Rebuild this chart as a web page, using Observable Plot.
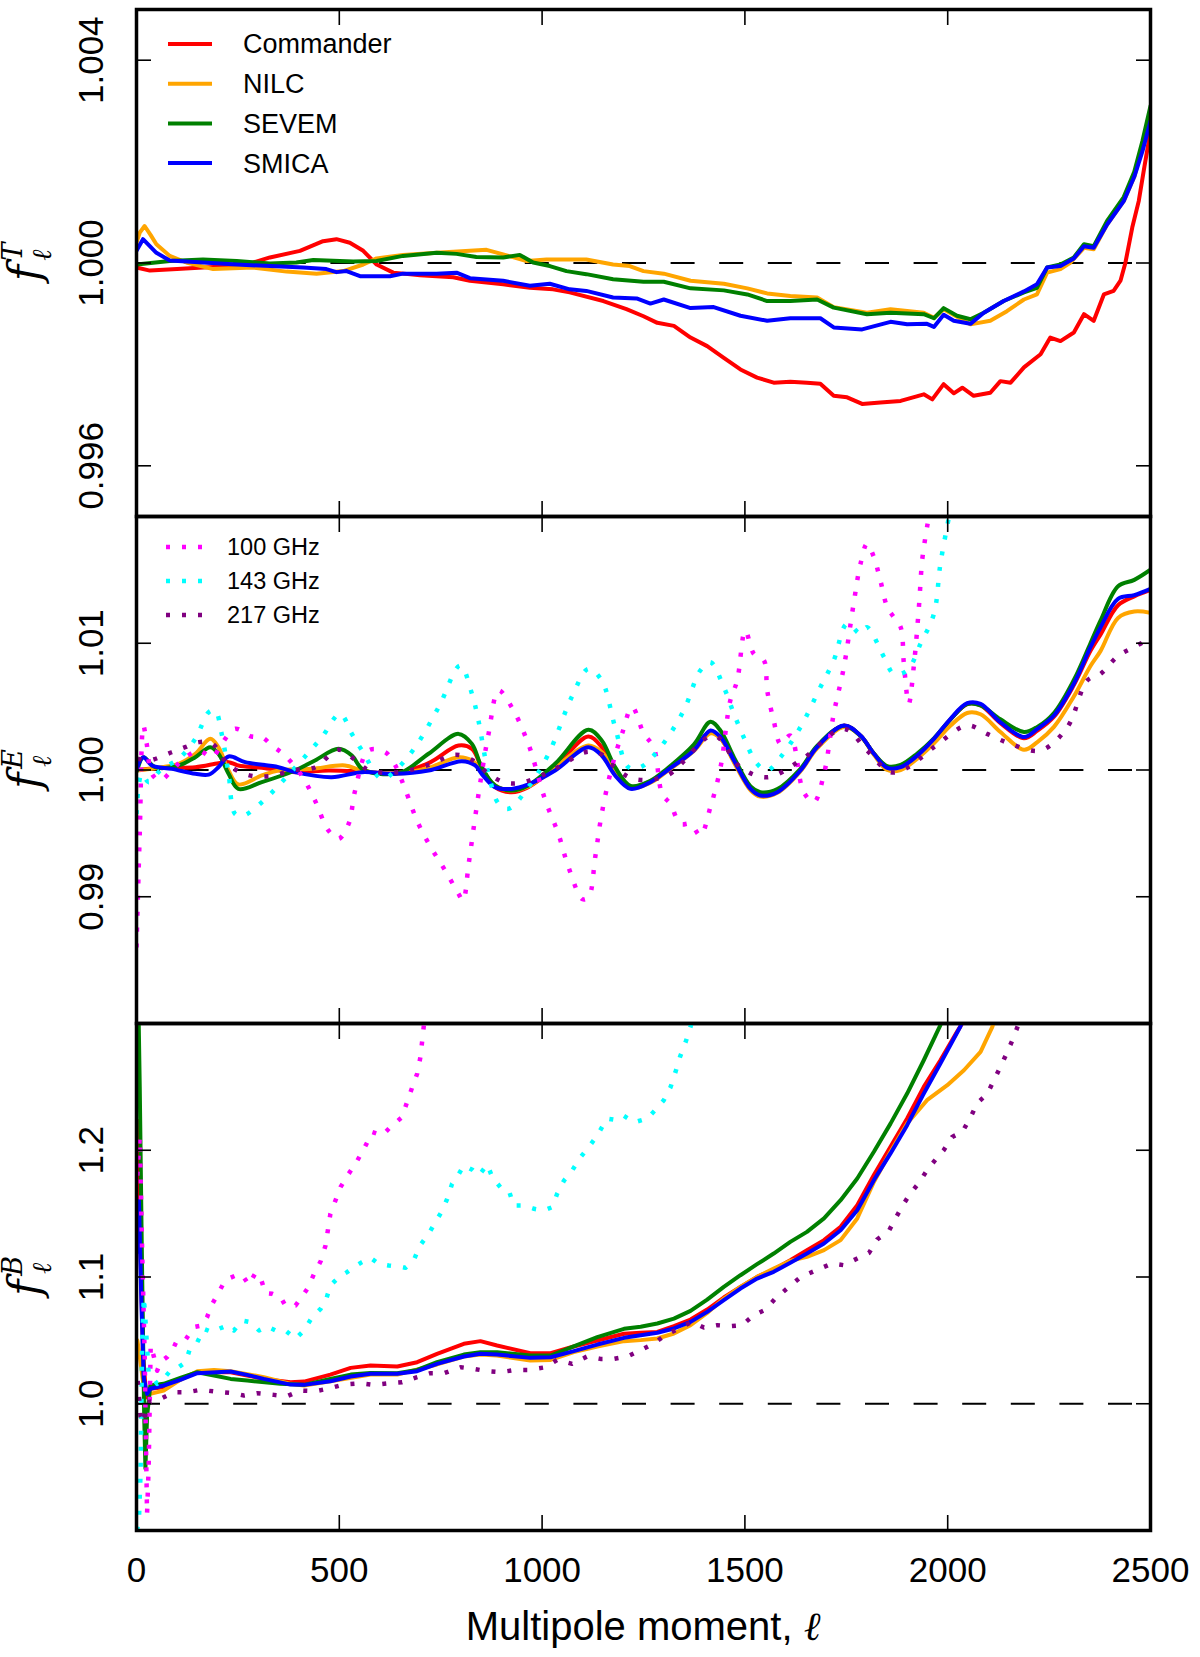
<!DOCTYPE html>
<html>
<head>
<meta charset="utf-8">
<script src="https://cdn.jsdelivr.net/npm/d3@7"></script>
<script src="https://cdn.jsdelivr.net/npm/@observablehq/plot@0.6"></script>
<style>
  body { margin: 0; background: white; }
  #chart { position: relative; width: 1200px; height: 1657px; font-family: "Liberation Sans", Arial, sans-serif; }
  #chart svg { position: absolute; left: 0; overflow: visible; }
</style>
</head>
<body>
<div id="chart"></div>
<script>
// multipole ticks shared by the three panels
const xTicks = [0, 500, 1000, 1500, 2000, 2500];

// ---- f_ell^T ----
const T_Commander = [[0,0.99991],[33,0.99985],[100,0.99988],[164,0.99991],[247,0.99994],[288,1.00001],[329,1.00011],[403,1.00024],[460,1.00043],[493,1.00047],[526,1.00040],[559,1.00024],[592,0.99997],[633,0.99981],[699,0.99976],[781,0.99972],[822,0.99965],[904,0.99958],[970,0.99951],[1027,0.99948],[1068,0.99942],[1151,0.99925],[1208,0.99909],[1250,0.99895],[1284,0.99882],[1325,0.99876],[1366,0.99853],[1407,0.99836],[1448,0.99813],[1489,0.99790],[1530,0.99774],[1571,0.99764],[1612,0.99766],[1653,0.99764],[1686,0.99762],[1719,0.99738],[1752,0.99735],[1789,0.99722],[1834,0.99725],[1884,0.99728],[1941,0.99741],[1962,0.99731],[1990,0.99761],[2015,0.99743],[2036,0.99754],[2064,0.99738],[2105,0.99744],[2130,0.99767],[2155,0.99764],[2188,0.99794],[2229,0.99820],[2253,0.99853],[2278,0.99846],[2311,0.99863],[2336,0.99899],[2360,0.99886],[2385,0.99938],[2409,0.99945],[2426,0.99965],[2438,1.00000],[2455,1.00070],[2471,1.00122],[2485,1.00190],[2500,1.00260]];
const T_NILC = [[0,1.00040],[8,1.00060],[20,1.00073],[35,1.00055],[49,1.00037],[82,1.00014],[123,1.00001],[189,0.99988],[288,0.99991],[370,0.99983],[444,0.99979],[510,0.99984],[559,0.99997],[592,1.00009],[657,1.00016],[740,1.00020],[822,1.00024],[863,1.00026],[904,1.00017],[962,1.00004],[1011,1.00007],[1109,1.00007],[1175,0.99997],[1216,0.99994],[1250,0.99984],[1300,0.99979],[1366,0.99965],[1448,0.99959],[1506,0.99950],[1555,0.99940],[1612,0.99935],[1678,0.99932],[1719,0.99913],[1801,0.99902],[1859,0.99909],[1941,0.99902],[1966,0.99892],[1990,0.99909],[2056,0.99879],[2105,0.99886],[2146,0.99905],[2188,0.99928],[2220,0.99938],[2245,0.99981],[2278,0.99988],[2303,1.00001],[2336,1.00030],[2360,1.00027],[2393,1.00076],[2434,1.00122],[2460,1.00170],[2480,1.00230],[2500,1.00290]];
const T_SEVEM = [[0,0.99997],[82,1.00004],[164,1.00007],[247,1.00004],[329,0.99999],[394,1.00001],[436,1.00006],[534,1.00003],[592,1.00004],[657,1.00014],[740,1.00020],[789,1.00018],[838,1.00012],[904,1.00011],[945,1.00016],[978,1.00001],[1019,0.99994],[1060,0.99984],[1109,0.99978],[1175,0.99968],[1250,0.99963],[1300,0.99963],[1366,0.99950],[1448,0.99946],[1506,0.99938],[1555,0.99925],[1612,0.99925],[1678,0.99928],[1719,0.99912],[1801,0.99899],[1859,0.99902],[1941,0.99899],[1966,0.99891],[1990,0.99911],[2023,0.99896],[2056,0.99889],[2089,0.99902],[2138,0.99925],[2188,0.99942],[2220,0.99951],[2245,0.99991],[2278,0.99997],[2311,1.00011],[2336,1.00037],[2360,1.00033],[2393,1.00083],[2434,1.00130],[2460,1.00180],[2480,1.00240],[2500,1.00310]];
const T_SMICA = [[0,1.00024],[16,1.00047],[49,1.00020],[82,1.00005],[164,1.00001],[247,0.99997],[329,0.99994],[411,0.99991],[468,0.99988],[493,0.99982],[518,0.99984],[551,0.99974],[625,0.99974],[657,0.99979],[740,0.99979],[789,0.99981],[822,0.99970],[904,0.99965],[970,0.99955],[1019,0.99959],[1068,0.99948],[1109,0.99945],[1175,0.99932],[1233,0.99930],[1267,0.99920],[1300,0.99928],[1366,0.99911],[1423,0.99913],[1489,0.99896],[1555,0.99886],[1612,0.99891],[1686,0.99891],[1719,0.99873],[1789,0.99869],[1859,0.99884],[1900,0.99879],[1949,0.99880],[1966,0.99874],[1990,0.99898],[2015,0.99886],[2056,0.99880],[2089,0.99902],[2138,0.99925],[2188,0.99944],[2220,0.99958],[2245,0.99991],[2278,0.99994],[2311,1.00009],[2336,1.00033],[2360,1.00030],[2393,1.00076],[2434,1.00122],[2460,1.00170],[2480,1.00220],[2500,1.00280]];

// ---- f_ell^E ----
const E_Commander = [[2,1.0000],[62,1.00017],[145,1.00022],[202,1.00054],[227,1.00062],[251,1.00036],[309,1.00017],[391,0.99983],[473,0.99996],[556,0.99988],[638,0.99975],[720,1.00054],[794,1.00193],[827,1.00167],[851,1.00022],[884,0.99865],[925,0.99825],[966,0.99865],[1032,1.00022],[1114,1.00264],[1147,1.0018],[1180,1.00009],[1218,0.99865],[1267,0.9991],[1308,1.0000],[1374,1.0017],[1415,1.0030],[1440,1.0025],[1473,1.0007],[1514,0.9985],[1538,0.99805],[1580,0.9983],[1637,1.0000],[1678,1.0018],[1744,1.0035],[1785,1.0027],[1818,1.0013],[1851,1.0002],[1884,1.0002],[1925,1.0011],[1966,1.0024],[2007,1.0040],[2048,1.0052],[2081,1.0051],[2130,1.0037],[2188,1.0025],[2221,1.0031],[2262,1.0042],[2311,1.0067],[2352,1.0094],[2377,1.0107],[2420,1.0130],[2460,1.0137],[2500,1.0142]];
const E_NILC = [[2,0.99996],[62,1.00022],[104,1.00049],[145,1.00128],[182,1.00246],[202,1.0018],[227,0.99996],[251,0.99886],[309,0.99957],[350,0.99996],[432,1.00009],[514,1.00036],[556,0.99996],[638,0.9997],[720,1.00017],[794,1.00101],[827,1.00075],[851,0.99996],[884,0.99878],[925,0.99838],[966,0.9987],[1032,1.00022],[1114,1.00193],[1147,1.00141],[1180,0.99996],[1218,0.9986],[1267,0.999],[1308,0.9999],[1374,1.0015],[1415,1.0029],[1440,1.0025],[1473,1.0006],[1514,0.9984],[1538,0.9979],[1580,0.9982],[1637,0.9999],[1678,1.0017],[1744,1.0034],[1785,1.0027],[1818,1.0012],[1851,1.0000],[1884,1.0000],[1925,1.0009],[1966,1.0021],[2007,1.0035],[2048,1.0045],[2081,1.0044],[2130,1.0030],[2188,1.0016],[2221,1.0022],[2262,1.0034],[2311,1.0058],[2352,1.0082],[2377,1.0094],[2420,1.0120],[2460,1.0125],[2500,1.0124]];
const E_SEVEM = [[2,0.99996],[17,1.00101],[46,1.00022],[104,1.00036],[145,1.00101],[182,1.0018],[202,1.00128],[227,0.9997],[251,0.99851],[309,0.99904],[391,0.99996],[440,1.00075],[498,1.00167],[531,1.00114],[556,1.00009],[597,0.9997],[654,0.99983],[720,1.00128],[794,1.00285],[827,1.00206],[851,1.00022],[884,0.99878],[925,0.99838],[966,0.99878],[1032,1.00049],[1114,1.00317],[1147,1.00233],[1180,1.00022],[1218,0.99875],[1267,0.99915],[1308,1.0001],[1374,1.0020],[1415,1.0038],[1440,1.0031],[1473,1.0010],[1514,0.9987],[1538,0.99825],[1580,0.9985],[1637,1.0001],[1678,1.0019],[1744,1.0035],[1785,1.0027],[1818,1.0013],[1851,1.0003],[1884,1.0004],[1925,1.0013],[1966,1.0025],[2007,1.0040],[2048,1.0052],[2081,1.0051],[2130,1.0040],[2188,1.0030],[2221,1.0034],[2262,1.0045],[2311,1.0071],[2352,1.0100],[2377,1.0118],[2420,1.0145],[2460,1.0150],[2500,1.0158]];
const E_SMICA = [[2,1.00022],[17,1.00101],[38,1.00036],[87,1.00009],[145,0.9997],[178,0.99964],[202,1.00022],[227,1.00107],[268,1.00062],[350,1.00022],[391,0.99983],[481,0.99943],[556,0.99983],[638,0.9997],[720,0.99996],[802,1.0007],[835,1.00036],[851,0.9997],[884,0.99865],[925,0.99851],[966,0.99886],[1032,0.99996],[1114,1.0018],[1147,1.00114],[1180,0.99957],[1218,0.99851],[1267,0.99904],[1308,0.99996],[1374,1.00154],[1415,1.00312],[1440,1.0026],[1473,1.00075],[1514,0.99851],[1538,0.99799],[1580,0.99825],[1637,0.99996],[1678,1.0018],[1744,1.00351],[1785,1.00273],[1818,1.00128],[1851,1.00017],[1884,1.00022],[1925,1.00114],[1966,1.00246],[2007,1.00404],[2048,1.00527],[2081,1.00522],[2130,1.00377],[2188,1.0026],[2221,1.00325],[2262,1.0043],[2311,1.0068],[2352,1.00969],[2377,1.01127],[2420,1.0135],[2460,1.0138],[2500,1.0143]];
const E_100 = [[0,0.986],[8,0.995],[17,1.0035],[25,1.0021],[38,0.9997],[58,0.99917],[87,0.99996],[112,1.00075],[153,1.00154],[186,1.00101],[210,1.00206],[243,1.00325],[284,1.00264],[309,1.00259],[334,1.00193],[366,1.00114],[407,0.99957],[440,0.9976],[473,0.99523],[498,0.99457],[523,0.99575],[539,0.99838],[572,1.00154],[613,1.00141],[638,1.00036],[662,0.99851],[695,0.99575],[728,0.99378],[761,0.99207],[794,0.99023],[805,0.9897],[819,0.9926],[835,0.99628],[851,0.9997],[868,1.00285],[893,1.00627],[925,1.00496],[966,1.00206],[1008,0.9976],[1040,0.99497],[1065,0.99234],[1100,0.9898],[1115,0.9900],[1131,0.99313],[1147,0.99654],[1172,1.00022],[1197,1.00285],[1222,1.00496],[1251,1.00285],[1275,1.0018],[1296,0.99812],[1316,0.99733],[1341,0.99575],[1366,0.99575],[1390,0.99483],[1415,0.99707],[1440,1.00022],[1464,1.00548],[1481,1.00706],[1501,1.011],[1522,1.00917],[1547,1.00864],[1555,1.00627],[1571,1.00391],[1588,1.00206],[1612,1.00272],[1645,0.99825],[1670,0.99746],[1695,0.9997],[1719,1.00443],[1744,1.00811],[1768,1.01311],[1785,1.01627],[1801,1.01784],[1818,1.01679],[1834,1.01495],[1851,1.01285],[1867,1.01206],[1884,1.01127],[1892,1.00837],[1904,1.00522],[1917,1.00837],[1929,1.01285],[1937,1.01653],[1945,1.01837],[1953,1.01995],[1965,1.023]];
const E_143 = [[0,0.99654],[13,0.9997],[30,0.99904],[62,1.00009],[104,1.00088],[145,1.00246],[178,1.00456],[194,1.00469],[210,1.00285],[227,0.9997],[243,0.99654],[264,0.99641],[309,0.99746],[358,0.99904],[407,1.00075],[457,1.00259],[502,1.00443],[531,1.00285],[556,1.00154],[605,0.9993],[638,0.99996],[687,1.0018],[745,1.00496],[798,1.00824],[827,1.00601],[843,1.00391],[868,0.9997],[893,0.99733],[917,0.99694],[966,0.99865],[1016,1.00128],[1073,1.00575],[1114,1.00798],[1147,1.00706],[1180,1.00338],[1213,1.00022],[1243,1.00022],[1292,1.0018],[1349,1.00469],[1390,1.00785],[1415,1.0085],[1448,1.00653],[1473,1.00443],[1497,1.00259],[1530,1.00049],[1555,0.99996],[1588,1.00101],[1637,1.00338],[1686,1.00653],[1719,1.00864],[1752,1.01154],[1785,1.01074],[1801,1.01127],[1843,1.0089],[1867,1.00759],[1900,1.00785],[1933,1.00996],[1966,1.01232],[1982,1.01627],[2003,1.01995],[2015,1.022]];
const E_217 = [[3,1.0009],[30,1.00075],[87,1.0014],[120,1.0018],[153,1.0022],[186,1.0021],[227,1.0004],[276,0.9996],[325,0.99951],[391,1.0000],[440,1.0002],[498,1.0016],[539,1.0008],[572,1.0000],[638,0.9998],[720,1.0004],[785,1.0012],[827,1.0008],[868,0.9997],[909,0.999],[950,0.999],[1008,0.9997],[1049,1.0004],[1106,1.0014],[1144,1.00128],[1180,1.0002],[1226,0.9993],[1308,0.99957],[1423,1.00272],[1489,1.00022],[1555,0.99943],[1637,1.00075],[1744,1.00325],[1801,1.00154],[1859,0.99983],[1900,1.00017],[1966,1.0018],[2048,1.00351],[2097,1.00285],[2155,1.00206],[2229,1.00154],[2295,1.00338],[2344,1.00706],[2377,1.00759],[2420,1.009],[2460,1.0097],[2500,1.0104]];

// ---- f_ell^B ----
const B_Commander = [[3,1.18],[5,1.223],[10,1.12],[16,1.04],[24,1.005],[34,1.0118],[67,1.0131],[108,1.0196],[150,1.0249],[232,1.0249],[273,1.0223],[314,1.0196],[380,1.017],[413,1.0175],[478,1.023],[528,1.0283],[577,1.0301],[643,1.0294],[692,1.0328],[741,1.0394],[807,1.0473],[848,1.0494],[889,1.046],[971,1.0399],[1021,1.0399],[1078,1.0452],[1136,1.0499],[1202,1.0552],[1243,1.056],[1284,1.0567],[1325,1.0612],[1366,1.0664],[1407,1.0743],[1448,1.0838],[1489,1.0922],[1530,1.1001],[1571,1.1059],[1612,1.1133],[1653,1.1212],[1695,1.1291],[1736,1.1396],[1777,1.1567],[1818,1.1804],[1859,1.2027],[1900,1.2251],[1941,1.25],[1982,1.271],[2023,1.2934],[2045,1.305]];
const B_NILC = [[2,1.05],[6,1.042],[18,1.013],[34,1.0078],[67,1.0104],[108,1.0188],[150,1.0257],[191,1.0267],[232,1.0257],[314,1.021],[380,1.0157],[413,1.0144],[478,1.0178],[577,1.023],[643,1.023],[741,1.031],[807,1.0373],[848,1.0388],[889,1.038],[971,1.0341],[1021,1.0346],[1078,1.0407],[1136,1.0452],[1202,1.0494],[1243,1.0502],[1284,1.0515],[1325,1.0554],[1366,1.062],[1407,1.0717],[1448,1.083],[1489,1.0922],[1530,1.1001],[1571,1.1067],[1612,1.1127],[1653,1.1159],[1695,1.1212],[1736,1.1291],[1777,1.1462],[1818,1.175],[1859,1.1988],[1900,1.2211],[1949,1.2395],[1999,1.2513],[2040,1.2631],[2081,1.2776],[2110,1.2974],[2118,1.305]];
const B_SEVEM = [[3,1.35],[8,1.25],[14,1.1],[19,0.99],[22,0.949],[26,0.99],[34,1.0144],[67,1.0157],[108,1.0204],[150,1.0249],[191,1.0223],[232,1.0196],[273,1.0183],[355,1.0157],[413,1.0149],[478,1.0196],[528,1.023],[577,1.0243],[643,1.0241],[692,1.0267],[741,1.0328],[807,1.0388],[848,1.0407],[889,1.0407],[971,1.038],[1021,1.038],[1078,1.0452],[1136,1.0525],[1202,1.0591],[1243,1.0607],[1284,1.0633],[1325,1.0672],[1366,1.0733],[1407,1.0822],[1448,1.0922],[1489,1.1014],[1530,1.1101],[1571,1.1185],[1612,1.1277],[1653,1.1356],[1695,1.1462],[1736,1.1606],[1777,1.1777],[1818,1.1988],[1859,1.221],[1900,1.2447],[1941,1.271],[1982,1.2987],[1995,1.31]];
const B_SMICA = [[3,1.12],[6,1.16],[12,1.08],[18,1.02],[26,1.0078],[34,1.0118],[67,1.0144],[108,1.0188],[150,1.0241],[232,1.0254],[273,1.0228],[314,1.0196],[380,1.0151],[413,1.0149],[478,1.0178],[528,1.0215],[577,1.0236],[643,1.0236],[692,1.0257],[741,1.0315],[807,1.0373],[848,1.0394],[889,1.0388],[971,1.0362],[1021,1.0367],[1078,1.0415],[1136,1.0467],[1202,1.052],[1243,1.0541],[1284,1.056],[1325,1.0594],[1366,1.0646],[1407,1.0725],[1448,1.0817],[1489,1.0909],[1530,1.0988],[1571,1.1041],[1612,1.1112],[1653,1.1185],[1695,1.1264],[1736,1.1369],[1777,1.1527],[1818,1.1764],[1859,1.1975],[1900,1.2198],[1941,1.2447],[1982,1.2684],[2031,1.2974],[2040,1.305]];
const B_100 = [[2,1.18],[8,1.21],[14,1.12],[20,1.04],[26,0.913],[30,0.95],[35,1.046],[43,1.037],[51,1.026],[59,1.033],[76,1.037],[88,1.042],[100,1.05],[121,1.0505],[141,1.0605],[162,1.0618],[174,1.0684],[187,1.0789],[203,1.088],[219,1.0977],[244,1.1011],[260,1.1019],[277,1.0938],[293,1.103],[306,1.0993],[318,1.0872],[335,1.0867],[355,1.0841],[367,1.0775],[392,1.0775],[408,1.0846],[421,1.0906],[437,1.1019],[454,1.1124],[466,1.1248],[478,1.1498],[503,1.1709],[523,1.1814],[540,1.1893],[565,1.2038],[581,1.2143],[606,1.2117],[626,1.2183],[655,1.2262],[667,1.238],[680,1.2499],[692,1.2604],[700,1.2735],[708,1.297],[712,1.31]];
const B_143 = [[1,0.9],[6,0.908],[10,0.945],[14,1.05],[18,1.084],[22,1.066],[30,1.0236],[38,1.021],[51,1.0157],[63,1.0183],[84,1.0262],[104,1.0289],[121,1.0328],[133,1.0446],[150,1.0486],[166,1.0591],[187,1.0565],[203,1.0591],[224,1.0618],[240,1.0578],[260,1.0657],[281,1.0644],[302,1.0578],[322,1.061],[343,1.0578],[367,1.0578],[392,1.0512],[413,1.0578],[433,1.0683],[454,1.0749],[468,1.0828],[478,1.0933],[499,1.0999],[519,1.1038],[536,1.1078],[556,1.1117],[577,1.1151],[597,1.1104],[622,1.1091],[643,1.1083],[663,1.1073],[684,1.1136],[699,1.1248],[719,1.1335],[737,1.1433],[754,1.1525],[766,1.1617],[778,1.1735],[795,1.1814],[807,1.188],[828,1.1846],[844,1.1801],[865,1.1888],[877,1.1788],[897,1.1709],[918,1.1683],[930,1.1564],[955,1.1564],[980,1.1538],[1004,1.1525],[1025,1.1551],[1037,1.1656],[1054,1.1761],[1074,1.184],[1095,1.1946],[1115,1.2025],[1136,1.2117],[1160,1.225],[1180,1.224],[1200,1.2275],[1227,1.222],[1259,1.225],[1280,1.232],[1300,1.2395],[1317,1.25],[1329,1.2619],[1340,1.2737],[1354,1.2855],[1366,1.2974],[1372,1.305]];
const B_217 = [[3,1.018],[10,0.99],[18,0.985],[26,1.0012],[51,1.0026],[92,1.0091],[125,1.0091],[158,1.011],[191,1.0097],[232,1.0086],[265,1.0065],[297,1.0083],[339,1.007],[371,1.0059],[404,1.0104],[441,1.0099],[478,1.0123],[511,1.0152],[552,1.0162],[585,1.0149],[622,1.0162],[655,1.017],[692,1.021],[725,1.0241],[758,1.0241],[799,1.0288],[832,1.0275],[864,1.0257],[897,1.0249],[934,1.0267],[967,1.0267],[1008,1.0288],[1037,1.0346],[1074,1.0315],[1111,1.0373],[1144,1.0354],[1177,1.0354],[1210,1.0373],[1243,1.0423],[1275,1.0475],[1304,1.0541],[1337,1.0594],[1370,1.0646],[1399,1.0601],[1432,1.062],[1464,1.0612],[1493,1.062],[1522,1.0699],[1551,1.0743],[1575,1.083],[1604,1.0909],[1633,1.0988],[1658,1.1028],[1686,1.1067],[1715,1.1107],[1744,1.1093],[1777,1.1146],[1806,1.119],[1826,1.1296],[1855,1.1364],[1871,1.1462],[1892,1.158],[1908,1.1659],[1929,1.1742],[1949,1.1842],[1970,1.1926],[1990,1.2],[2011,1.2105],[2036,1.2145],[2056,1.2258],[2073,1.2373],[2097,1.2442],[2114,1.2552],[2130,1.2658],[2147,1.2776],[2163,1.2894],[2175,1.3],[2180,1.305]];

const solidNames = ["Commander", "NILC", "SEVEM", "SMICA"];
const dottedNames = ["100 GHz", "143 GHz", "217 GHz"];
const colors = {
  "Commander": "#ff0000", "NILC": "#ffa500", "SEVEM": "#008000", "SMICA": "#0000ff",
  "100 GHz": "#ff00ff", "143 GHz": "#00ffff", "217 GHz": "#800080"
};

const W = 1200, ML = 136, MR = 50;
const dots = "4,12";

function panel({solid, dotted = [], yDomain, yTicks, yFormat, height, marginTop, marginBottom, curve, xLabels}) {
  const marks = [
    Plot.ruleY([1], {stroke: "black", strokeWidth: 2, strokeDasharray: "24,24.6"})
  ];
  solid.forEach(([name, pts]) => marks.push(
    Plot.line(pts, {x: d => d[0], y: d => d[1], stroke: colors[name], strokeWidth: 4, curve, clip: true})
  ));
  dotted.forEach(([name, pts]) => marks.push(
    Plot.line(pts, {x: d => d[0], y: d => d[1], stroke: colors[name], strokeWidth: 4.5,
      strokeDasharray: dots, strokeLinecap: "butt", curve, clip: true})
  ));
  const tk = {tickSize: -15, tickFormat: () => "", label: null, strokeWidth: 1.6};
  marks.push(
    Plot.axisX(xTicks, {anchor: "top", ...tk}),
    Plot.axisX(xTicks, {anchor: "bottom", ...tk}),
    Plot.axisY(yTicks, {anchor: "left", ...tk}),
    Plot.axisY(yTicks, {anchor: "right", ...tk}),
    Plot.text(yTicks, {y: d => d, frameAnchor: "left", dx: -45, rotate: -90, text: yFormat,
      fontSize: 35, textAnchor: "middle", lineAnchor: "middle", fill: "black"}),
    Plot.frame({stroke: "black", strokeWidth: 3.5})
  );
  if (xLabels) marks.push(
    Plot.text(xTicks, {x: d => d, frameAnchor: "bottom", dy: 40, text: d => String(d),
      fontSize: 35, lineAnchor: "middle", fill: "black"})
  );
  return Plot.plot({
    width: W, height, marginLeft: ML, marginRight: MR, marginTop, marginBottom,
    x: {domain: [0, 2500]},
    y: {domain: yDomain},
    style: {fontFamily: "Liberation Sans, Arial, sans-serif", background: "transparent", overflow: "visible"},
    marks
  });
}

const pT = panel({
  solid: [["Commander", T_Commander], ["NILC", T_NILC], ["SEVEM", T_SEVEM], ["SMICA", T_SMICA]],
  yDomain: [0.995, 1.005], yTicks: [0.996, 1.000, 1.004], yFormat: d => d.toFixed(3),
  height: 516, marginTop: 9, marginBottom: 0, curve: "linear"
});
const pE = panel({
  solid: [["Commander", E_Commander], ["NILC", E_NILC], ["SEVEM", E_SEVEM], ["SMICA", E_SMICA]],
  dotted: [["100 GHz", E_100], ["143 GHz", E_143], ["217 GHz", E_217]],
  yDomain: [0.98, 1.02], yTicks: [0.99, 1.00, 1.01], yFormat: d => d.toFixed(2),
  height: 507, marginTop: 0, marginBottom: 0, curve: "catmull-rom"
});
const pB = panel({
  solid: [["Commander", B_Commander], ["NILC", B_NILC], ["SEVEM", B_SEVEM], ["SMICA", B_SMICA]],
  dotted: [["100 GHz", B_100], ["143 GHz", B_143], ["217 GHz", B_217]],
  yDomain: [0.9, 1.3], yTicks: [1.0, 1.1, 1.2], yFormat: d => d.toFixed(1),
  height: 634, marginTop: 0, marginBottom: 127, curve: "linear", xLabels: true
});

const root = d3.select("#chart");
[[pT, 0], [pE, 516], [pB, 1023]].forEach(([p, top]) => {
  root.append(() => p);
  d3.select(p).style("top", top + "px");
});

// overlay: axis titles and legends
const ov = root.append("svg").attr("width", W).attr("height", 1657)
  .style("top", "0px").style("pointer-events", "none");

function yTitle(cy, sup) {
  const t = ov.append("text").attr("transform", `translate(40,${cy}) rotate(-90)`)
    .attr("text-anchor", "middle").attr("font-family", "DejaVu Serif, Liberation Serif, serif")
    .attr("font-style", "italic").attr("fill", "black");
  t.append("tspan").attr("font-size", 44).text("f");
  t.append("tspan").attr("font-size", 27).attr("dx", 4).attr("dy", -18).text(sup);
  t.append("tspan").attr("font-size", 27).attr("dx", -18).attr("dy", 29).text("ℓ");
}
yTitle(262, "T");
yTitle(769, "E");
yTitle(1276, "B");

const xl = ov.append("text").attr("x", ML + (W - ML - MR) / 2).attr("y", 1640)
  .attr("text-anchor", "middle").attr("font-size", 40).attr("fill", "black")
  .attr("font-family", "Liberation Sans, Arial, sans-serif");
xl.append("tspan").text("Multipole moment, ");
xl.append("tspan").attr("font-style", "italic").attr("font-family", "Liberation Serif, serif").text("ℓ");

solidNames.forEach((name, i) => {
  const y = 44 + i * 39.7;
  ov.append("line").attr("x1", 168).attr("x2", 212).attr("y1", y).attr("y2", y)
    .attr("stroke", colors[name]).attr("stroke-width", 4);
  ov.append("text").attr("x", 243).attr("y", y).attr("dy", "0.35em")
    .attr("font-size", 27).attr("font-family", "Liberation Sans, Arial, sans-serif").text(name);
});
dottedNames.forEach((name, i) => {
  const y = 547 + i * 34;
  ov.append("line").attr("x1", 166).attr("x2", 204).attr("y1", y).attr("y2", y)
    .attr("stroke", colors[name]).attr("stroke-width", 4.5).attr("stroke-dasharray", dots);
  ov.append("text").attr("x", 227).attr("y", y).attr("dy", "0.35em")
    .attr("font-size", 23.5).attr("font-family", "Liberation Sans, Arial, sans-serif").text(name);
});
</script>
</body>
</html>
